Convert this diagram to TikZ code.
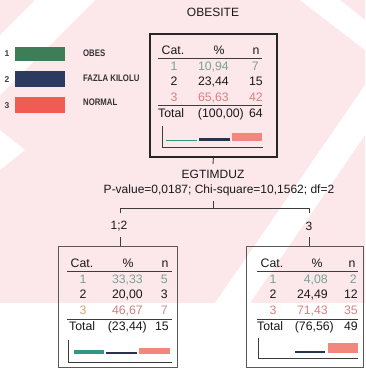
\documentclass[tikz,border=0pt]{standalone}
\usepackage{fontspec}
\setmainfont{Liberation Sans}
\definecolor{wm}{RGB}{252,231,234}
\definecolor{txtc}{RGB}{25,25,25}
\definecolor{rowone}{RGB}{120,162,150}
\definecolor{rowthree}{RGB}{218,128,128}
\definecolor{rulec}{RGB}{60,60,60}
\definecolor{lgreen}{RGB}{61,125,88}
\definecolor{lblue}{RGB}{44,58,95}
\definecolor{lred}{RGB}{240,92,82}
\definecolor{bgreen}{RGB}{50,150,130}
\definecolor{bblue}{RGB}{40,50,75}
\definecolor{bred}{RGB}{242,135,125}
\tikzset{
  txt/.style={font=\fontsize{12.3}{14}\selectfont, inner sep=0pt, text height=8.8pt, text depth=0pt, text=txtc},
  rone/.style={txt, text=rowone},
  rthree/.style={txt, text=rowthree},
  hrule/.style={draw=rulec, line width=0.9pt},
  axisline/.style={draw=rulec, line width=0.8pt},
  conn/.style={draw=rulec, line width=0.9pt},
  rootbox/.style={draw=black!85, line width=1.8pt, inner sep=0pt, anchor=north west},
  childbox/.style={draw=black!65, line width=1pt, inner sep=0pt, anchor=north west},
  legtxt/.style={font=\bfseries\fontsize{9.5}{10}\selectfont, inner sep=0pt, text=black!80, xscale=0.82, anchor=west},
  legnum/.style={font=\bfseries\fontsize{8.5}{10}\selectfont, inner sep=0pt, text=black!75},
  title/.style={font=\fontsize{12}{14}\selectfont, inner sep=0pt, text=txtc},
}
\begin{document}
\begin{tikzpicture}[x=1pt,y=-1pt]
\useasboundingbox (0,0) rectangle (365,370);
% watermark
\fill[wm] (0,0) rectangle (365,303);
\fill[white] (35,0) -- (95,0) -- (0,95) -- (0,35) -- cycle;
\fill[white] (0,130) -- (25,150) -- (0,170) -- cycle;
\fill[white] (215,303) -- (250,303) -- (365,135) -- (365,85) -- cycle;
\fill[white] (300,0) -- (340,0) -- (365,20) -- (365,50) -- cycle;

% legend
\node[legnum] (n1) at (7,54) {1};
\node[legnum] (n2) at (7,80) {2};
\node[legnum] (n3) at (7,106) {3};
\fill[lgreen] (15,47) rectangle (65,61);
\fill[lblue] (15,71) rectangle (65,87);
\fill[lred] (15,97) rectangle (65,113);
\node[legtxt] (l1) at (83,53) {OBES};
\node[legtxt] (l2) at (83,78) {FAZLA KILOLU};
\node[legtxt] (l3) at (83,102) {NORMAL};

% titles
\node[title] (ttl) at (213,12) {OBESITE};
\node[title] (var) at (213,174) {EGTIMDUZ};
\node[title] (pval) at (219,190) {P-value=0,0187; Chi-square=10,1562; df=2};

% root box
\begin{scope}[shift={(149,33)}]
\node[rootbox, minimum width=127, minimum height=123] (root) at (0,0) {};
\node[txt] (rh1) at (24,17) {Cat.};
\node[txt] (rh2) at (70,17) {\%};
\node[txt] (rh3) at (107,17) {n};
\draw[hrule] (9,25) -- (113,25);
\node[rone] (ra1) at (25,33) {1};
\node[rone, anchor=east] (rb1) at (80,33) {10,94};
\node[rone, anchor=east] (rc1) at (110,33) {7};
\node[txt] (ra2) at (25,48.5) {2};
\node[txt, anchor=east] (rb2) at (80,48.5) {23,44};
\node[txt, anchor=east] (rc2) at (114,48.5) {15};
\node[rthree] (ra3) at (25,64) {3};
\node[rthree, anchor=east] (rb3) at (80,64) {65,63};
\node[rthree, anchor=east] (rc3) at (114,64) {42};
\draw[hrule] (9,72) -- (113,72);
\node[txt, anchor=west] (rt1) at (9,80) {Total};
\node[txt, anchor=east] (rt2) at (95,80) {(100,00)};
\node[txt, anchor=east] (rt3) at (114,80) {64};
\draw[axisline] (13,93) -- (13,114) -- (114,114);
\fill[bgreen] (17,106.6) rectangle (48,107.8);
\fill[bblue] (50,105) rectangle (81,107.8);
\fill[bred] (83,99.5) rectangle (113,107.8);
\end{scope}

% left child
\begin{scope}[shift={(58,246)}]
\node[childbox, minimum width=119, minimum height=121] (left) at (0,0) {};
\node[txt] (lh1) at (24,17) {Cat.};
\node[txt] (lh2) at (70,17) {\%};
\node[txt] (lh3) at (107,17) {n};
\draw[hrule] (9,25) -- (114,25);
\node[rone] (la1) at (25,33) {1};
\node[rone, anchor=east] (lb1) at (85,33) {33,33};
\node[rone, anchor=east] (lc1) at (110,33) {5};
\node[txt] (la2) at (25,48.5) {2};
\node[txt, anchor=east] (lb2) at (85,48.5) {20,00};
\node[txt, anchor=east] (lc2) at (110,48.5) {3};
\node[rthree, text={rgb,255:red,225;green,160;blue,110}] (la3) at (25,64) {3};
\node[rthree, text={rgb,255:red,205;green,125;blue,125}, anchor=east] (lb3) at (85,64) {46,67};
\node[rthree, text={rgb,255:red,205;green,140;blue,140}, anchor=east] (lc3) at (110,64) {7};
\draw[hrule] (9,73) -- (114,73);
\node[txt, anchor=west] (lt1) at (11,80) {Total};
\node[txt, anchor=east] (lt2) at (89,80) {(23,44)};
\node[txt, anchor=east] (lt3) at (111,80) {15};
\draw[axisline] (10,94) -- (10,116) -- (114,116);
\fill[bgreen] (16,103.5) rectangle (46,108);
\fill[bblue] (48,105.5) rectangle (79,108);
\fill[bred] (81,102) rectangle (112,108);
\end{scope}

% right child
\begin{scope}[shift={(246,246)}]
\node[childbox, minimum width=117, minimum height=121] (right) at (0,0) {};
\node[txt] (gh1) at (26,17) {Cat.};
\node[txt] (gh2) at (71,17) {\%};
\node[txt] (gh3) at (106,17) {n};
\draw[hrule] (11,25) -- (112,25);
\node[rone] (ga1) at (27,33) {1};
\node[rone, anchor=east] (gb1) at (82,33) {4,08};
\node[rone, anchor=east] (gc1) at (111,33) {2};
\node[txt] (ga2) at (27,48.5) {2};
\node[txt, anchor=east] (gb2) at (82,48.5) {24,49};
\node[txt, anchor=east] (gc2) at (112,48.5) {12};
\node[rthree] (ga3) at (27,64) {3};
\node[rthree, anchor=east] (gb3) at (82,64) {71,43};
\node[rthree, anchor=east] (gc3) at (112,64) {35};
\draw[hrule] (11,73) -- (112,73);
\node[txt, anchor=west] (gt1) at (11,80) {Total};
\node[txt, anchor=east] (gt2) at (88,80) {(76,56)};
\node[txt, anchor=east] (gt3) at (112,80) {49};
\draw[axisline] (12,92) -- (12,112) -- (112,112);
\fill[bblue] (49,104.5) rectangle (79,107);
\fill[bred] (82,97) rectangle (112,107);
\end{scope}

% connectors
\coordinate (rootdown) at (213,164);
\coordinate (splitup) at (213,201);
\coordinate (splitmid) at (213,208);
\coordinate (splitl) at (120,208);
\coordinate (splitr) at (309,208);
\coordinate (tickl) at (120,213);
\coordinate (tickr) at (309,213);
\node[title] (lab12) at (119,226) {1;2};
\node[title] (lab3) at (309,226) {3};
\coordinate (leftup) at (120,237);
\coordinate (rightup) at (309,237);
\draw[conn] (root.south) -- (rootdown);
\draw[conn] (splitup) -- (splitmid);
\draw[conn] (tickl) -- (splitl) -- (splitr) -- (tickr);
\draw[conn] (leftup) -- (leftup |- left.north);
\draw[conn] (rightup) -- (rightup |- right.north);
\end{tikzpicture}
\end{document}
